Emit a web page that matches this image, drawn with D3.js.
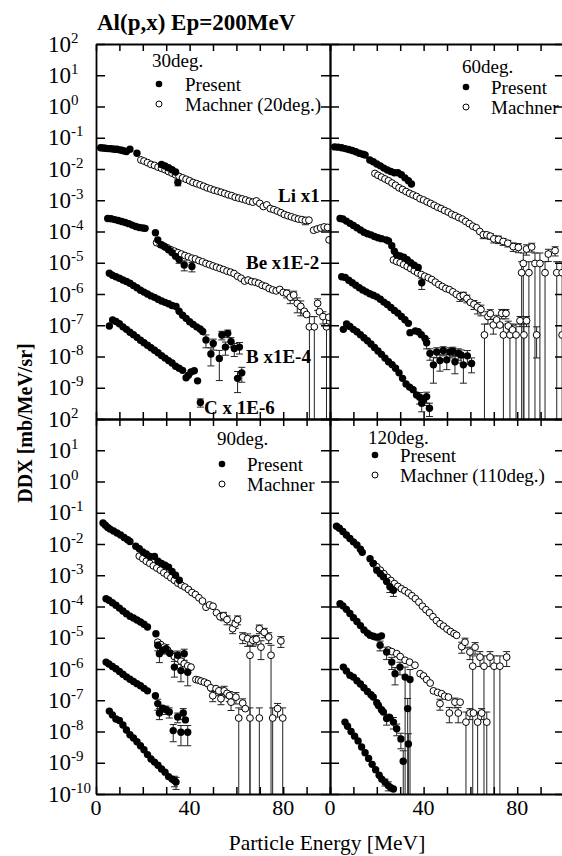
<!DOCTYPE html>
<html>
<head>
<meta charset="utf-8">
<script src="https://cdn.jsdelivr.net/npm/d3@7"></script>
<style>
  body { margin: 0; background: #fff; }
  svg text { font-family: 'Liberation Serif', 'DejaVu Serif', serif; fill: #000; }
</style>
</head>
<body>
<svg id="chart" width="562" height="856" font-family="Liberation Serif, DejaVu Serif, serif"></svg>
<script>
// values: [energy MeV, DDX mb/MeV/sr, error (optional)]
// 30 deg
const li30P = [[2,4.8e-2],[3,4.7e-2],[4,4.6e-2],[5,4.5e-2],[6,4.5e-2],[7,4.4e-2],[8,4.3e-2],[9,4.3e-2],[10,4.1e-2],[11,4.0e-2],[12,3.8e-2],[13,3.6e-2],[14.5,4.3e-2],[17.5,3.2e-2],[28,1.4e-2],[29.5,1.25e-2],[31,1.1e-2],[32.5,9.5e-3],[34,8e-3],[35,3.7e-3,8e-4]];
const li30M = [[19.2,1.95e-2],[20.5,1.8e-2],[22,1.6e-2],[23.5,1.4e-2],[25,1.3e-2],[26.5,1.15e-2],[28,1.05e-2],[29.5,9.5e-3],[31,8.3e-3],[32.5,7.4e-3],[34,6.5e-3],[35.5,5.8e-3],[37,5.2e-3],[38.5,4.7e-3],[40,4.2e-3],[41.5,3.7e-3],[43,3.4e-3],[44.5,3.1e-3],[46,2.8e-3],[47.5,2.5e-3],[49,2.3e-3],[50.5,2.1e-3],[52,1.95e-3],[53.5,1.8e-3],[55,1.65e-3],[56.5,1.5e-3],[58,1.4e-3],[59.5,1.25e-3],[61,1.17e-3],[62.5,1.1e-3],[64,1.02e-3],[65.5,9.3e-4],[67,8.7e-4],[68.5,9.5e-4],[70,7.9e-4],[71.5,6.3e-4],[73,7.1e-4],[74.5,5.4e-4],[76,5e-4],[77.5,4.5e-4],[79,4e-4],[80.5,3.5e-4],[82,3.2e-4],[83.5,2.95e-4],[85,2.7e-4],[86.5,2.5e-4],[88,2.4e-4],[89.5,2.25e-4,6e-5],[91,2.3e-4],[93,1.1e-4],[94.5,1.2e-4],[96,1.3e-4],[97.5,1.4e-4],[99,1.35e-4],[99.6,5.4e-5]];
const be30P = [[5,2.6e-4],[6.5,2.57e-4],[8,2.4e-4],[9.5,2.24e-4],[11,2.1e-4],[12.5,1.95e-4],[14,1.78e-4],[15.5,1.6e-4],[17,1.45e-4],[18.5,1.35e-4],[20,1.3e-4],[21,1.26e-4],[25.4,9.1e-5],[26.4,5.4e-5],[28,3.8e-5],[29.5,3.2e-5],[31,2.6e-5],[32.5,2.1e-5],[34,1.6e-5],[35.5,1.26e-5,3e-6],[37.7,8.5e-6,3e-6],[41,7.6e-6,2.5e-6]];
const be30M = [[25.9,4.4e-5],[27.5,3.8e-5],[29,3.4e-5],[30.5,3e-5],[32,2.6e-5],[33.5,2.35e-5],[35,2.1e-5],[36.5,1.9e-5],[38,1.7e-5],[39.5,1.55e-5],[41,1.4e-5],[42.5,1.32e-5],[44,1.17e-5],[45.5,1.07e-5],[47,9.5e-6],[48.5,8.7e-6],[50,7.9e-6],[51.5,7.2e-6],[53,6.6e-6],[54.5,6e-6],[56,5.4e-6],[57.5,5e-6],[59,4.5e-6],[60.5,3.7e-6],[62,3.2e-6],[63.5,2.6e-6],[65,2.8e-6],[66.5,2.5e-6],[68,2.4e-6],[69.5,2.2e-6],[71,1.9e-6],[72.5,1.75e-6],[74,1.5e-6],[75.5,1.35e-6],[77,1.26e-6],[78.5,1.4e-6],[80,1.12e-6],[81.5,1.05e-6,3e-7],[83,7.9e-7,3e-7],[84.5,9.3e-7,3e-7],[86,5e-7,2.5e-7],[87.5,4e-7,2e-7],[89,2.8e-7],[90,2.2e-7],[91.2,8.9e-8,1e-7],[93.3,8.9e-8,1e-7],[94.7,5e-7,2e-7],[95.5,2.7e-7],[97,1.9e-7,8e-8],[98.5,8.9e-8,1e-7],[99.5,1.8e-7]];
const b30P = [[5.7,4.6e-6],[7,4e-6],[8.5,3.55e-6],[10,3.2e-6],[11.5,2.8e-6],[13,2.5e-6],[14.5,2.2e-6],[16,1.86e-6],[17.5,1.58e-6],[19,1.32e-6],[20.5,1.15e-6],[22,1e-6],[23.5,8.7e-7],[25,7.8e-7],[26.5,6.8e-7],[28,6e-7],[29.5,5.4e-7],[31,4.9e-7],[32.5,4.3e-7],[34.2,4e-7],[35.5,2.8e-7],[37,2.1e-7],[38.5,1.66e-7],[40,1.3e-7],[41.5,1.07e-7],[43,8.9e-8],[44.5,7.6e-8],[45.6,6.3e-8],[47,3.4e-8,1.5e-8],[49.1,1.2e-8,7e-9],[50.1,2.6e-8,1e-8],[52.7,8.7e-9,7e-9],[53.8,4.9e-8,1.5e-8],[55.3,2e-8,9e-9],[56.3,5.5e-8,1.5e-8],[57.7,3e-8,1e-8],[59.1,1.8e-8,8e-9],[61.3,2e-8,8e-9]];
const c30P = [[5.7,9.5e-8],[7.1,1.48e-7],[8.5,1.32e-7],[10,1.12e-7],[11.5,8.9e-8],[13,7.4e-8],[14.5,6e-8],[16,5e-8],[17.5,4.1e-8],[19,3.3e-8],[20.5,2.75e-8],[22,2.3e-8],[23.5,1.9e-8],[25,1.58e-8],[26.5,1.32e-8],[28,1.07e-8],[29.5,8.9e-9],[31,7.4e-9],[32.5,6.2e-9],[34,4.9e-9],[35.5,4.2e-9],[37,3.6e-9],[38.5,2.1e-9],[39.5,2.5e-9],[40.6,3.2e-9],[42,3.5e-9],[43.4,1.66e-9],[44.6,3.4e-10,1e-10],[60.5,2e-9,1.3e-9],[62.3,3e-9,1.5e-9]];
// 60 deg
const li60P = [[2,5.1e-2],[3.5,5e-2],[5,4.8e-2],[6.5,4.5e-2],[8,4.2e-2],[9.5,3.9e-2],[11,3.55e-2],[12.5,3.2e-2],[14,2.95e-2],[15,2.8e-2],[17,1.95e-2],[18.5,1.7e-2],[20,1.45e-2],[21.5,1.26e-2],[23,1.07e-2],[24.5,9.3e-3],[26,8.3e-3],[27.5,7.6e-3],[29,7.6e-3],[30.5,6.6e-3],[32,5.2e-3],[33.5,4.2e-3],[34.8,3.3e-3]];
const li60M = [[19.2,7.2e-3],[20.5,6.3e-3],[22,5.5e-3],[23.5,4.8e-3],[25,4.2e-3],[26.5,3.55e-3],[28,3e-3],[29.5,2.5e-3],[31,2.2e-3],[32.5,1.9e-3],[34,1.66e-3],[35.5,1.48e-3],[37,1.32e-3],[38.5,1.12e-3],[40,1.02e-3],[41.5,8.9e-4],[43,7.9e-4],[44.5,6.9e-4],[46,6e-4],[47.5,5.4e-4],[49,4.7e-4],[50.5,4.2e-4],[52,3.55e-4],[53.5,3.2e-4],[55,2.8e-4],[56.5,2.5e-4],[58,2.1e-4],[59.5,1.78e-4],[61,1.48e-4],[62.5,1.32e-4],[64,1e-4],[65.5,7.9e-5,2e-5],[67,7.8e-5,1.5e-5],[68.5,7.1e-5,1.5e-5],[70,5.8e-5,1.5e-5],[72,5.6e-5,1.5e-5],[74,4.8e-5,1.2e-5],[76,4.2e-5,1e-5],[78.3,3.3e-5,1e-5],[80.5,3.1e-5,1e-5],[81.9,4.8e-6,6e-6],[82.6,9.5e-6,1.1e-5],[84,2.75e-5,1e-5],[85,4.8e-6,6e-6],[86.2,3.2e-5,1e-5],[87.6,9.5e-6,1.1e-5],[89.7,9.5e-6,1.1e-5],[91.9,4.8e-6,6e-6],[93.3,1.9e-5,8e-6],[96.2,2.45e-5,8e-6],[96.9,4.8e-6,6e-6],[99.2,4.8e-6,6e-6]];
const be60P = [[4.3,2.6e-4],[5.5,2.5e-4],[7,2.15e-4],[8.5,1.82e-4],[10,1.55e-4],[11.5,1.32e-4],[13,1.12e-4],[14.5,9.5e-5],[16,8.5e-5],[17.5,7.8e-5],[19,6.9e-5],[20.5,6.3e-5],[22,5.9e-5],[24,5.4e-5],[25,5e-5],[26.4,3.5e-5],[27.5,2.35e-5],[28.5,1.78e-5],[30,1.66e-5],[31.5,1.5e-5],[33,1.26e-5],[34.5,1e-5],[36,8.3e-6],[37.7,7.1e-6],[39.2,2.3e-6,9e-7]];
const be60M = [[27.1,1.23e-5],[28.5,1.1e-5],[30,1e-5],[31.5,8.7e-6],[33,7.6e-6],[34.5,6.5e-6],[36,5.5e-6],[37.5,4.7e-6],[39,4.2e-6],[40.5,3.7e-6],[42,3.3e-6],[43.5,2.9e-6],[45,2.4e-6],[46.5,2e-6],[48,1.74e-6],[49.5,1.5e-6],[51,1.38e-6],[52.5,1.17e-6],[54,9.8e-7],[55.5,8.3e-7,2.5e-7],[57,8.9e-7,2.5e-7],[58.5,7.2e-7,2e-7],[60,5.4e-7],[61.5,4.7e-7,1.5e-7],[63,3.8e-7,1.5e-7],[64.5,3.2e-7,1.2e-7],[66,4.9e-8,6e-8],[67.5,1.9e-7,8e-8],[68.5,2.35e-7,8e-8],[69.8,1.02e-7,5e-8],[71.2,1.48e-7,6e-8],[72.6,1.02e-7],[73.4,2.4e-7,8e-8],[74.1,4.9e-8,6e-8],[75.2,2.4e-7,8e-8],[76.2,9.5e-8,4e-8],[76.9,4.9e-8,6e-8],[78,7.1e-8,3e-8],[79.5,4.9e-8,6e-8],[81.2,1.4e-7,5e-8],[82.9,4.9e-8,6e-8],[84,1.4e-7,5e-8],[88.3,4.9e-8,4e-8],[99.2,4.9e-8]];
const b60P = [[5,3.55e-6],[6.5,3.4e-6],[8,2.75e-6],[9.5,2.3e-6],[11,1.9e-6],[12.5,1.58e-6],[14,1.35e-6],[15.5,1.17e-6],[17,1.02e-6],[18.5,9.1e-7],[20,8.1e-7],[21.5,6.8e-7],[23,5.5e-7],[24.5,4.6e-7],[26,3.7e-7],[27.5,2.95e-7],[29,2.45e-7],[30.5,1.9e-7],[32,1.5e-7],[33.5,1.15e-7],[34.2,5.8e-8],[36.5,6.6e-8],[37.7,6.2e-8],[39,5e-8],[40.6,3.8e-8],[41.3,2.75e-8,1e-8],[42.7,1.26e-8,5e-9],[44.2,5.4e-9,4e-9],[45.6,1.4e-8,5e-9],[47,7.4e-9,4e-9],[48.4,1.55e-8,5e-9],[49.9,7.8e-9,4e-9],[51.2,1.4e-8,5e-9],[52.5,1.48e-8,5e-9],[53.4,6.8e-9,4e-9],[54.8,1.26e-8,5e-9],[56,1.12e-8,5e-9],[57,5.4e-9,4e-9],[58.7,1.05e-8,5e-9],[60.5,6e-9,3e-9]];
const c60P = [[5.7,7.4e-8],[7.1,1.1e-7],[8.5,9.1e-8],[10,7.4e-8],[11.5,6.2e-8],[13,5e-8],[14.5,4e-8],[16,3.2e-8],[17.5,2.5e-8],[19,1.95e-8],[20.5,1.5e-8],[22,1.17e-8],[23.5,8.9e-9],[25,6.8e-9],[26.5,5.5e-9],[28,4.2e-9],[29.5,3e-9],[31,2e-9],[32.5,1.32e-9],[34,1.05e-9],[35.5,8.7e-10],[37,5.9e-10],[38.3,5e-10,2e-10],[39.2,3.2e-10,1.5e-10],[40,4.2e-10,1.5e-10],[41.3,5.2e-10,2e-10],[42.5,2.2e-10,1e-10]];
// 90 deg
const li90P = [[3,4.7e-2],[4,4e-2],[5,3.4e-2],[6,3e-2],[7.5,2.6e-2],[9,2.25e-2],[10.5,1.95e-2],[12,1.62e-2],[13.5,1.38e-2],[14.5,1.2e-2],[17,8.5e-3],[18.5,7.1e-3],[20,5.6e-3],[21.5,4.8e-3],[23,4e-3],[25,4e-3],[26.5,2.8e-3],[28,2.4e-3],[29.5,2.1e-3],[31,1.82e-3],[32.5,1.32e-3],[34,1e-3],[35.6,6.9e-4]];
const li90M = [[18.5,4.1e-3],[20,3.4e-3],[21.5,2.8e-3],[23,2.4e-3],[24.5,2e-3],[26,1.7e-3],[27.5,1.45e-3],[29,1.2e-3],[30.5,1e-3],[32,8.3e-4],[33.5,6.9e-4],[35,5.6e-4],[36.5,4.8e-4],[38,4.2e-4],[39.5,3.5e-4],[41,2.8e-4],[42.5,2.4e-4],[44,1.9e-4],[45.5,1.5e-4],[47,9.5e-5],[48.5,1.12e-4],[50,1.02e-4],[51.5,6.3e-5],[53,4.7e-5],[54.5,5e-5,1.5e-5],[56,3.8e-5,1.2e-5],[58.4,1.95e-5,6e-6],[59.5,2.8e-5,8e-6],[60.5,3.8e-5,1.2e-5],[62.7,1.05e-5,4e-6],[64.8,9.3e-6,4e-6],[65.8,2.75e-6,3e-6],[67,8.3e-6,3e-6],[68.5,8.9e-6,3e-6],[69.8,1.95e-5,6e-6],[70.5,5e-6,3e-6],[71.9,1.5e-5,5e-6],[73.8,1.05e-5,4e-6],[74.8,2.75e-6,3e-6],[79,7.9e-6,3e-6]];
const be90P = [[4.3,1.78e-4],[5.5,1.58e-4],[7,1.32e-4],[8.5,1.1e-4],[10,8.9e-5],[11.5,7.2e-5],[13,5.9e-5],[14.5,4.9e-5],[16,4.3e-5],[17.5,3.7e-5],[19,3.2e-5],[20.5,2.7e-5],[22,2.2e-5],[25.6,1.35e-5],[26.4,5.8e-6,2e-6],[27.1,3.1e-6,1.5e-6],[28.5,4e-6],[29.9,4.5e-6,1.5e-6],[31.5,3.2e-6],[33.5,1.15e-6,6e-7],[34.9,2.75e-6,1e-6],[36.3,8.9e-7,5e-7],[37.7,3.1e-6,1.2e-6],[39.2,7.9e-7,5e-7]];
const be90M = [[26.4,7.2e-6],[27.7,6e-6],[29.2,5e-6],[30.6,4e-6],[32.1,3.1e-6],[33.5,2.5e-6],[34.9,2.15e-6],[36.3,1.78e-6],[37.7,1.48e-6],[39.2,1.26e-6],[40.6,1.15e-6],[42.7,4.6e-7],[43.8,4.4e-7],[44.9,4.1e-7],[46.3,3.8e-7],[47.7,3.4e-7],[49,2.5e-7],[49.9,1.4e-7,5e-8],[51.3,2.35e-7],[52.5,2e-7,6e-8],[53.4,1.12e-7,4e-8],[54.8,2e-7,8e-8],[56,1.66e-7],[57,1.4e-7,5e-8],[57.7,8.7e-8,4e-8],[59.8,1.26e-7,5e-8],[61,2.7e-8,3e-8],[62.7,8.1e-8,3e-8],[63.8,5.4e-8],[65.8,2.7e-8,3e-8],[69.8,2.7e-8,3e-8],[75.5,2.7e-8,3e-8],[77.6,5.4e-8,2.5e-8],[79.8,2.7e-8,3e-8]];
const b90P = [[4.3,1.66e-6],[5.5,1.45e-6],[7,1.2e-6],[8.5,1.02e-6],[10,8.3e-7],[11.5,6.8e-7],[13,5.6e-7],[14.5,4.7e-7],[16,4e-7],[17.5,3.4e-7],[19,2.9e-7],[20.5,2.4e-7],[22,2e-7],[25.4,1.4e-7],[26.4,7.8e-8,3e-8],[27.1,3.9e-8,1.5e-8],[28.5,5.6e-8],[29.9,5e-8,1.5e-8],[31.3,4.2e-8,1.5e-8],[33,1.07e-8,6e-9],[34.9,2.9e-8,1e-8],[36.3,9.5e-9,6e-9],[37.3,3.9e-8,1.5e-8],[38.2,2.35e-8],[39.2,9.5e-9,6e-9]];
const c90P = [[5.7,4.5e-8],[7,3.4e-8],[8.5,2.5e-8],[10,2.25e-8],[11.5,1.62e-8],[13,1.12e-8],[14.5,7.9e-9],[16,6.2e-9],[17.5,4.7e-9],[19,3.5e-9],[20.5,2.6e-9],[22,1.82e-9],[23.5,1.32e-9],[25,1.05e-9],[26.5,8.3e-10],[28,6.3e-10],[29.5,5e-10],[31,3.6e-10],[32.5,3e-10],[33.5,2.7e-10,1e-10],[34.2,2.4e-10,1e-10]];
// 120 deg
const li120P = [[2.8,3.7e-2],[4,3.2e-2],[5.5,2.5e-2],[7,1.95e-2],[8.5,1.5e-2],[10,1.17e-2],[11.5,9.3e-3],[13,6.8e-3],[13.8,5.4e-3],[17.1,3.4e-3],[18.5,2.4e-3],[20,1.45e-3],[21.5,1.12e-3],[22.8,8.9e-4],[24.2,6.3e-4],[25.6,4.3e-4,1.5e-4],[27.1,3.3e-4,1.2e-4]];
const li120M = [[18.5,2.35e-3],[20,1.86e-3],[21.5,1.45e-3],[23,1.12e-3],[24.5,8.5e-4],[26,6.8e-4],[27.5,5.4e-4],[29,4.4e-4],[30.5,3.7e-4],[32,3.2e-4],[33.5,2.7e-4],[35,2.2e-4],[36.5,1.78e-4],[38,1.38e-4],[39.5,1.02e-4],[41,7.9e-5],[42.5,6.3e-5],[44,4.7e-5],[45.5,3.55e-5],[47,2.8e-5],[48.5,2.35e-5],[50,1.9e-5],[51.5,1.58e-5],[53,1.35e-5],[54.1,1.2e-5],[56.3,5.2e-6,2e-6],[57.7,7.2e-6,2.5e-6],[59.8,3.5e-6,1.5e-6],[61,1.23e-6,1.4e-6],[62,5e-6,2e-6],[64.1,2.4e-6,1.2e-6],[65.8,1.23e-6,1.4e-6],[68.4,2.4e-6,1.2e-6],[70.1,1.23e-6,1.4e-6],[72.6,1.23e-6,1.4e-6],[75.5,2.4e-6,1.2e-6]];
const be120P = [[4.3,1.23e-4],[5.5,1.05e-4],[7,8.1e-5],[8.5,6e-5],[10,4.4e-5],[11.5,3.3e-5],[13,2.45e-5],[14.5,1.78e-5],[16,1.41e-5],[17.1,1.2e-5],[18.5,1.12e-5],[19.5,1.05e-5],[20.7,1.05e-5],[22,1.15e-5],[21.4,5.8e-6,2e-6],[24.2,3.5e-6,1.5e-6],[26.4,1.66e-6,7e-7],[27.8,7.1e-7,4e-7],[29.9,1.15e-6,5e-7],[32.1,5.5e-7,6e-7],[34.2,4.6e-7,5e-7]];
const be120M = [[24.9,4e-6],[26.4,3.6e-6],[28.5,3.1e-6],[30,2.5e-6],[32.1,1.9e-6],[34,1.66e-6],[36.3,1.32e-6],[38.5,7.1e-7],[40,6e-7],[41.3,4.6e-7],[42.8,3.55e-7],[44.2,2e-7],[46,1.78e-7],[47.7,1.62e-7],[49,1.35e-7],[50.6,1.26e-7],[47,7.8e-8,3e-8],[51,3.9e-8,2e-8],[53.4,8.7e-8,3e-8],[54.8,3.9e-8,2e-8],[55.6,8.7e-8],[58.1,2e-8,2.2e-8],[59.8,3.9e-8,1.5e-8],[61.3,3.9e-8],[63.1,2e-8,2.2e-8],[64.8,3.9e-8,1.5e-8],[67,2e-8,2.2e-8]];
const b120P = [[5.7,1.15e-6],[7,8.7e-7],[8.5,6.3e-7],[10,5.5e-7],[11.5,4.2e-7],[13,3.3e-7],[14.5,2.5e-7],[16,1.9e-7],[17.5,1.5e-7],[18.5,1.26e-7],[20,8.3e-8],[20.7,6.8e-8],[22,5e-8],[22.8,4.2e-8],[24.2,2.6e-8,1e-8],[25.5,2.8e-8],[27.1,2e-8,8e-9],[28.5,1.23e-8,5e-9],[30.3,5.8e-9,3e-9],[31.3,1.12e-9,1.3e-9],[33.2,5.4e-8,6e-8],[33.5,4e-9,4.5e-9]];
const c120P = [[6.4,2e-8],[7.5,1.48e-8],[9,1e-8],[10.5,7.1e-9],[12,5e-9],[13.5,3.2e-9],[15,2.1e-9],[16.5,1.38e-9],[18,8.9e-10],[19.5,6e-10],[21,4e-10],[22.1,3e-10],[23.5,2.4e-10,6e-11],[24.9,1.86e-10,6e-11],[26,1.58e-10],[27.1,1.45e-10]];

const decades = [2, 1, 0, -1, -2, -3, -4, -5, -6, -7, -8, -9, -10];
const energyTicks = [0, 10, 20, 30, 40, 50, 60, 70, 80, 90, 100];
const energyLabels = [0, 40, 80];
const speciesLabels = ['Li x1', 'Be x1E-2', 'B x1E-4', 'C x 1E-6'];

const panels = [
  { id: 'p30', col: 0, row: 0, angle: '30deg.', machnerName: 'Machner (20deg.)',
    present: [li30P, be30P, b30P, c30P], machner: [li30M, be30M] },
  { id: 'p60', col: 1, row: 0, angle: '60deg.', machnerName: 'Machner',
    present: [li60P, be60P, b60P, c60P], machner: [li60M, be60M] },
  { id: 'p90', col: 0, row: 1, angle: '90deg.', machnerName: 'Machner',
    present: [li90P, be90P, b90P, c90P], machner: [li90M, be90M] },
  { id: 'p120', col: 1, row: 1, angle: '120deg.', machnerName: 'Machner (110deg.)',
    present: [li120P, be120P, b120P, c120P], machner: [li120M, be120M] }
];

// layout
const plotLeft = 96;
const plotTop = 44;
const pw = 234;
const ph = 375;
const serif = 'Liberation Serif, DejaVu Serif, serif';
const legendPos = {
  p30: { tx: 56, ty: 23, mx: 63, my: 40, lx: 89 },
  p60: { tx: 132, ty: 29, mx: 136, my: 43, lx: 161 },
  p90: { tx: 121, ty: 26, mx: 126, my: 45, lx: 151 },
  p120: { tx: 38, ty: 25, mx: 45, my: 36, lx: 70 }
};
const speciesPos = [[278, 202], [246, 269], [246, 363], [204, 414]];
const rFilled = 3.7;
const rOpen = 3.4;

const svg = d3.select('#chart');

function drawPanel(p) {
  const x0 = plotLeft + p.col * pw;
  const y0 = plotTop + p.row * ph;
  const x = d3.scaleLinear().domain([0, 100]).range([x0, x0 + pw]);
  const y = d3.scaleLog().domain([1e-10, 1e2]).range([y0 + ph, y0]);
  const g = svg.append('g');

  svg.append('clipPath').attr('id', `clip${p.id}`)
    .append('rect').attr('x', x0).attr('y', y0).attr('width', pw).attr('height', ph);
  const plot = g.append('g').attr('clip-path', `url(#clip${p.id})`);

  // error bars
  const withErr = [].concat(...p.machner, ...p.present).filter(d => d[2] !== undefined);
  withErr.forEach((d) => {
    const cx = x(d[0]);
    const hi = y(d[1] + d[2]);
    const low = d[1] - d[2];
    const lo = low > 0 ? y(low) : y0 + ph + 2;
    plot.append('line').attr('x1', cx).attr('x2', cx).attr('y1', hi).attr('y2', lo)
      .attr('stroke', '#222').attr('stroke-width', 1);
    plot.append('line').attr('x1', cx - 3.5).attr('x2', cx + 3.5).attr('y1', hi).attr('y2', hi)
      .attr('stroke', '#222').attr('stroke-width', 1);
    if (low > 0) {
      plot.append('line').attr('x1', cx - 3.5).attr('x2', cx + 3.5).attr('y1', lo).attr('y2', lo)
        .attr('stroke', '#222').attr('stroke-width', 1);
    }
  });

  // Machner: open circles
  p.machner.forEach((s) => {
    plot.append('g').selectAll('circle').data(s).join('circle')
      .attr('cx', d => x(d[0])).attr('cy', d => y(d[1])).attr('r', rOpen)
      .attr('fill', '#fff').attr('stroke', '#000').attr('stroke-width', 1);
  });
  // Present: filled circles
  p.present.forEach((s) => {
    plot.append('g').selectAll('circle').data(s).join('circle')
      .attr('cx', d => x(d[0])).attr('cy', d => y(d[1])).attr('r', rFilled)
      .attr('fill', '#000');
  });

  // frame with inward ticks
  const yVals = decades.map(e => Math.pow(10, e));
  const axes = [
    [d3.axisLeft(y).tickValues(yVals).tickSize(-9), `translate(${x0},0)`],
    [d3.axisRight(y).tickValues(yVals).tickSize(-9), `translate(${x0 + pw},0)`],
    [d3.axisTop(x).tickValues(energyTicks).tickSize(-7), `translate(0,${y0})`],
    [d3.axisBottom(x).tickValues(energyTicks).tickSize(-7), `translate(0,${y0 + ph})`]
  ];
  axes.forEach(([ax, tr]) => {
    const a = g.append('g').attr('transform', tr)
      .call(ax.tickFormat('').tickSizeOuter(0));
    a.select('.domain').attr('stroke', '#000').attr('stroke-width', 1.8);
    a.selectAll('.tick line').attr('stroke', '#000').attr('stroke-width', 1.5);
  });

  // decade labels on the left column
  if (p.col === 0) {
    decades.forEach((e) => {
      if (p.row === 0 && e === -10) {
        return;
      }
      const t = g.append('text').attr('x', 48).attr('y', y(Math.pow(10, e)) + 7.5)
        .attr('font-family', serif).attr('font-size', 23);
      t.append('tspan').text('10');
      t.append('tspan').attr('dy', -9).attr('font-size', 15).text(e);
    });
  }
  // energy labels on the bottom row
  if (p.row === 1) {
    energyLabels.forEach((v) => {
      g.append('text').attr('x', x(v)).attr('y', 815).attr('text-anchor', 'middle')
        .attr('font-family', serif).attr('font-size', 22).text(v);
    });
  }

  // legend
  const lp = legendPos[p.id];
  g.append('text').attr('x', x0 + lp.tx).attr('y', y0 + lp.ty)
    .attr('font-family', serif).attr('font-size', 19).text(p.angle);
  g.append('circle').attr('cx', x0 + lp.mx).attr('cy', y0 + lp.my).attr('r', 3.3).attr('fill', '#000');
  g.append('text').attr('x', x0 + lp.lx).attr('y', y0 + lp.my + 7)
    .attr('font-family', serif).attr('font-size', 19).text('Present');
  g.append('circle').attr('cx', x0 + lp.mx).attr('cy', y0 + lp.my + 20).attr('r', 3)
    .attr('fill', '#fff').attr('stroke', '#000').attr('stroke-width', 1);
  g.append('text').attr('x', x0 + lp.lx).attr('y', y0 + lp.my + 27)
    .attr('font-family', serif).attr('font-size', 19).text(p.machnerName);
}

panels.forEach(drawPanel);

// species labels (30 deg panel)
speciesLabels.forEach((s, i) => {
  svg.append('text').attr('x', speciesPos[i][0]).attr('y', speciesPos[i][1])
    .attr('font-family', serif).attr('font-size', 19).attr('font-weight', 'bold').text(s);
});

// titles
svg.append('text').attr('x', 97).attr('y', 30).attr('font-family', serif)
  .attr('font-size', 23).attr('font-weight', 'bold').text('Al(p,x) Ep=200MeV');
svg.append('text').attr('x', 327).attr('y', 850).attr('text-anchor', 'middle')
  .attr('font-family', serif).attr('font-size', 21.5).text('Particle Energy [MeV]');
svg.append('text').attr('transform', 'translate(32,423) rotate(-90)').attr('text-anchor', 'middle')
  .attr('font-family', serif).attr('font-size', 20).attr('font-weight', 'bold').text('DDX [mb/MeV/sr]');
</script>
</body>
</html>
